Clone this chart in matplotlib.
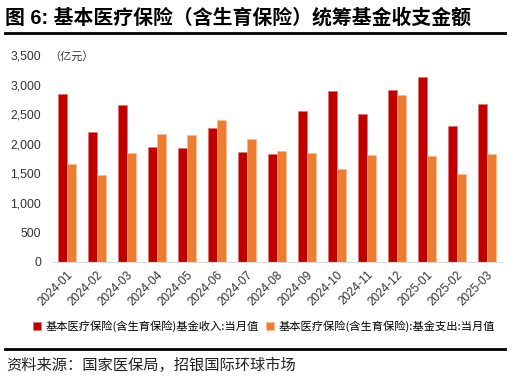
import matplotlib
matplotlib.use('Agg')
import matplotlib.pyplot as plt
import numpy as np

plt.rcParams['font.family'] = ['Liberation Sans', 'Noto Sans CJK SC', 'DejaVu Sans']

RED = '#C00000'
ORANGE = '#ED7D31'

months = ['2024-01', '2024-02', '2024-03', '2024-04', '2024-05', '2024-06', '2024-07',
          '2024-08', '2024-09', '2024-10', '2024-11', '2024-12', '2025-01', '2025-02', '2025-03']
income = [2835, 2190, 2660, 1950, 1925, 2265, 1860, 1830, 2560, 2885, 2505, 2915, 3135, 2305, 2670]
expense = [1650, 1465, 1845, 2170, 2150, 2395, 2080, 1875, 1850, 1580, 1815, 2825, 1790, 1495, 1830]

title = '图 6: 基本医疗保险（含生育保险）统筹基金收支金额'
label_in = '基本医疗保险(含生育保险)基金收入:当月值'
label_out = '基本医疗保险(含生育保险):基金支出:当月值'
source = '资料来源：国家医保局，招银国际环球市场'

fig = plt.figure(figsize=(5.23, 3.81), dpi=100)
ax = fig.add_axes([52 / 523, 1 - 262 / 381, 450 / 523, 207 / 381])

x = np.arange(len(months))
w = 0.29
ax.bar(x - w / 2, income, w, color=RED, edgecolor='#e07070', linewidth=0.4, label=label_in)
ax.bar(x + w / 2, expense, w, color=ORANGE, edgecolor='#f5b98f', linewidth=0.4, label=label_out)

ax.set_xlim(-0.5, len(months) - 0.5)
ax.set_ylim(0, 3500)
ax.set_yticks(np.arange(0, 3501, 500))
ax.set_yticklabels([f'{v:,}' for v in range(0, 3501, 500)], fontsize=8.8, color='#333333')
ax.set_xticks(x)
ax.set_xticklabels(months, rotation=45, ha='right', rotation_mode='anchor', fontsize=8.5, color='#333333')
ax.tick_params(axis='y', length=0, pad=8)
ax.tick_params(axis='x', length=0, pad=5)
for s in ['top', 'right', 'left']:
    ax.spines[s].set_visible(False)
ax.spines['bottom'].set_color('#d9d9d9')

fig.text(49 / 523, 1 - 56 / 381, '（亿元）', fontsize=8, color='#333333', va='center',
         family=['Noto Sans CJK SC'])

ax.legend(loc='center', bbox_to_anchor=(264 / 523, 1 - 326 / 381), bbox_transform=fig.transFigure,
          ncol=2, frameon=False, handlelength=0.7, handleheight=0.7,
          handletextpad=0.4, columnspacing=0.6, prop={'family': ['Noto Sans CJK SC'], 'size': 8.1})

fig.text(5 / 523, 1 - 18 / 381, title, fontsize=14.3, fontweight='bold', va='center',
         family=['Liberation Sans', 'Noto Sans CJK SC'])
fig.add_artist(plt.Line2D([5 / 523, 505 / 523], [1 - 32.5 / 381] * 2, color='black', linewidth=2,
                          transform=fig.transFigure))
fig.add_artist(plt.Line2D([5 / 523, 505 / 523], [1 - 348.5 / 381] * 2, color='black', linewidth=2,
                          transform=fig.transFigure))
fig.text(6 / 523, 1 - 365 / 381, source, fontsize=11, va='center', color='#222222',
         family=['Noto Sans CJK SC'])

fig.savefig('out.png', dpi=100)
